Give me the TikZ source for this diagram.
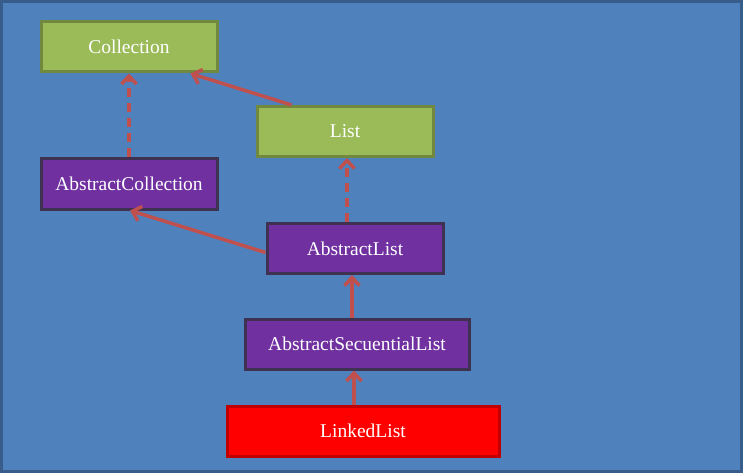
\documentclass[tikz,border=0pt]{standalone}
\usepackage{fontspec}
\setmainfont{Liberation Serif}
\usepackage{tikz}
\usetikzlibrary{arrows.meta, calc}
\usepackage{xcolor}
\definecolor{bgblue}{RGB}{79,129,189}
\definecolor{bgframe}{RGB}{56,93,138}
\definecolor{ifacegreen}{RGB}{155,187,89}
\definecolor{ifaceline}{RGB}{113,137,63}
\definecolor{abspurple}{RGB}{112,48,160}
\definecolor{absline}{RGB}{63,49,81}
\definecolor{concred}{RGB}{255,0,0}
\definecolor{concline}{RGB}{192,0,0}
\definecolor{arrowred}{RGB}{192,80,77}

\begin{document}
\begin{tikzpicture}[x=1pt,y=-1pt,
  box/.style={draw,line width=3pt,minimum height=50pt,text=white,
    font=\fontsize{19.5}{23}\selectfont,inner sep=0pt},
  iface/.style={box,fill=ifacegreen,draw=ifaceline},
  absclass/.style={box,fill=abspurple,draw=absline},
  concrete/.style={box,fill=concred,draw=concline},
  impl/.style={-{Straight Barb[length=8pt,width=15pt]},line width=3.5pt,arrowred,dash pattern=on 9pt off 6pt},
  ext/.style={-{Straight Barb[length=8pt,width=15pt]},line width=3.5pt,arrowred}]
  \useasboundingbox (0,0) rectangle (743,473);
  \draw[fill=bgblue,draw=bgframe,line width=2.5pt] (1.5,1.5) rectangle (741.5,471.5);
  % interfaces
  \node[iface,minimum width=176pt] (coll) at (129,47){Collection};
  \node[iface,minimum width=176pt] (list) at (345,131.5){List};
  % abstract classes
  \node[absclass,minimum width=176pt] (abscoll) at (129,184){AbstractCollection};
  \node[absclass,minimum width=176pt] (abslist) at (355,248.5){AbstractList};
  \node[absclass,minimum width=224pt] (absseq) at (357,344){AbstractSecuentialList};
  % concrete class
  \node[concrete,minimum width=272pt] (linked) at (363,431){LinkedList};
  % arrows
  \draw[impl] (abscoll.north) -- (coll.south);
  \draw[ext] ($(list.north west)+(36,0)$) -- ($(coll.south east)+(-28,0)$);
  \draw[impl] ($(abslist.north)+(-8,0)$) -- ($(list.south)+(2,0)$);
  \draw[ext] ($(abslist.west)+(0,4)$) -- ($(abscoll.south)+(1,0)$);
  \draw[ext] ($(absseq.north)+(-5,0)$) -- ($(abslist.south)+(-3,0)$);
  \draw[ext] ($(linked.north)+(-9,0)$) -- ($(absseq.south)+(-3,0)$);
\end{tikzpicture}
\end{document}
